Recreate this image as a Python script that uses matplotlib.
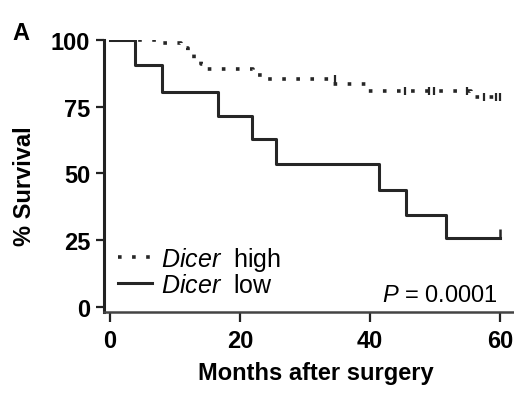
import matplotlib
matplotlib.use("Agg")
import matplotlib.pyplot as plt

plt.rcParams['font.family'] = ['Liberation Sans', 'DejaVu Sans']
plt.rcParams['mathtext.fontset'] = 'custom'
plt.rcParams['mathtext.rm'] = 'Liberation Sans'
plt.rcParams['mathtext.it'] = 'Liberation Sans:italic'

# Dicer high (dotted) step curve
high_months = [0, 8, 11, 12, 13, 14, 15, 22, 24, 34, 39.5, 55.5, 60]
high_surv = [100, 99, 97, 95, 93, 91, 89, 87, 85.4, 83.5, 81, 78.7, 78.7]
high_censor_months = [34.6, 45.4, 49.1, 49.8, 54.9, 57.5, 59.4, 60]
high_censor_surv = [85.4, 81, 81, 81, 81, 78.7, 78.7, 78.7]

# Dicer low (solid) step curve
low_months = [0, 3.8, 8, 16.7, 21.8, 25.6, 41.4, 45.6, 51.7, 60]
low_surv = [100, 90.5, 80.5, 71.6, 63, 53.4, 43.9, 34.5, 25.8, 25.8]
low_censor_months = [60]
low_censor_surv = [27.5]

xticks = [0, 20, 40, 60]
yticks = [0, 25, 50, 75, 100]
p_text = r"$\mathit{P}$ = 0.0001"

W, H = 514, 402
fig = plt.figure(figsize=(W / 100, H / 100), dpi=100)
# axes box in pixels: left 104, right 513, top 41, bottom 313
ax = fig.add_axes([104 / W, 1 - 313 / H, (513 - 104) / W, (313 - 41) / H])

line_col = '#262626'
ax.step(high_months, high_surv, where='post', color=line_col, lw=2.6,
        linestyle=(0, (1.0, 2.9)), label=r"$\mathit{Dicer}$  high")
ax.step(low_months, low_surv, where='post', color=line_col, lw=2.2,
        label=r"$\mathit{Dicer}$  low")
ax.plot(high_censor_months, high_censor_surv, linestyle='none', marker='|',
        markersize=6, mew=1.6, color=line_col)
ax.plot(low_censor_months, low_censor_surv, linestyle='none', marker='|',
        markersize=6, mew=1.8, color=line_col)

ax.set_xlim(-0.9, 62)
ax.set_ylim(-2, 100)
ax.set_xticks(xticks)
ax.set_yticks(yticks)
for lab in ax.get_xticklabels() + ax.get_yticklabels():
    lab.set_fontweight('bold')
ax.tick_params(axis='both', labelsize=17, width=1.6, color='#222',
               direction='out')
ax.tick_params(axis='x', pad=5, length=7)
ax.tick_params(axis='y', pad=4, length=6)

for side in ['top', 'right']:
    ax.spines[side].set_visible(False)
ax.spines['left'].set_linewidth(2.2)
ax.spines['bottom'].set_linewidth(1.8)
ax.spines['left'].set_color('#222')
ax.spines['bottom'].set_color('#444')

ax.set_xlabel('Months after surgery', fontsize=17, fontweight='bold', labelpad=4)
ax.set_ylabel('% Survival', fontsize=17, fontweight='bold')
ax.yaxis.set_label_coords(-0.167, 0.467)
ax.xaxis.set_label_coords(0.518, -0.18)

ax.legend(loc='center left', bbox_to_anchor=(0.035, 0.15), frameon=False,
          fontsize=18, handlelength=1.35, handletextpad=0.35, labelspacing=0.0,
          borderpad=0, borderaxespad=0)
ax.text(59.6, 2.3, p_text, ha='right', va='baseline', fontsize=17)

fig.text(12 / W, 1 - 40 / H, 'A', fontsize=17, fontweight='bold')

fig.savefig('out.png', dpi=100)
